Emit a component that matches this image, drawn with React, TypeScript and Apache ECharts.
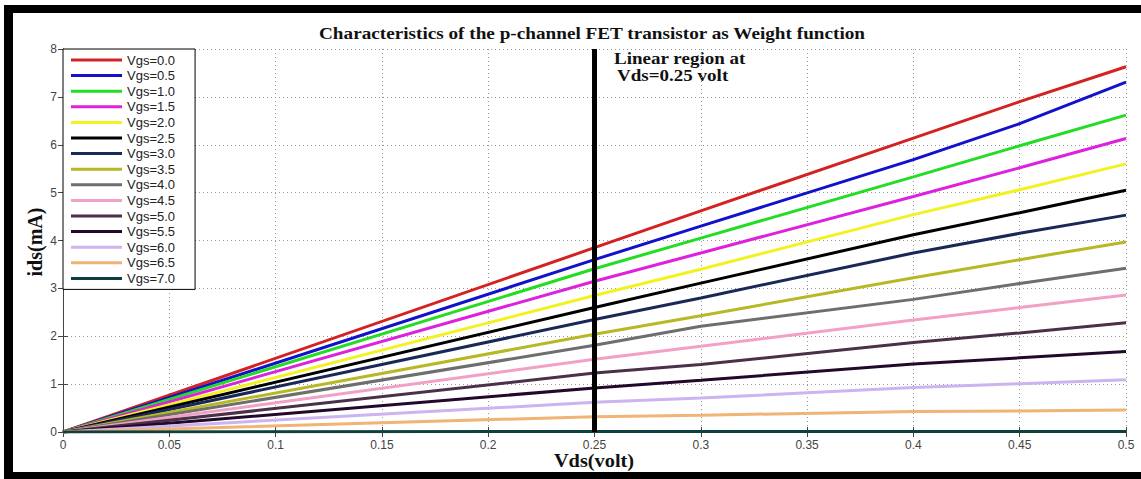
import React, { useEffect, useRef } from "react";
import * as echarts from "echarts";

const vds = [0, 0.25, 0.3, 0.4, 0.45, 0.5];
const seriesNames = [
  "Vgs=0.0", "Vgs=0.5", "Vgs=1.0", "Vgs=1.5", "Vgs=2.0", "Vgs=2.5", "Vgs=3.0", "Vgs=3.5",
  "Vgs=4.0", "Vgs=4.5", "Vgs=5.0", "Vgs=5.5", "Vgs=6.0", "Vgs=6.5", "Vgs=7.0",
];
const ids00 = [0, 3.85, 4.62, 6.14, 6.9, 7.63];
const ids05 = [0, 3.6, 4.3, 5.69, 6.44, 7.31];
const ids10 = [0, 3.41, 4.05, 5.33, 5.98, 6.62];
const ids15 = [0, 3.15, 3.74, 4.92, 5.52, 6.13];
const ids20 = [0, 2.85, 3.4, 4.54, 5.06, 5.6];
const ids25 = [0, 2.6, 3.11, 4.12, 4.58, 5.05];
const ids30 = [0, 2.35, 2.8, 3.74, 4.15, 4.53];
const ids35 = [0, 2.04, 2.43, 3.22, 3.6, 3.97];
const ids40 = [0, 1.81, 2.21, 2.77, 3.1, 3.42];
const ids45 = [0, 1.52, 1.79, 2.34, 2.6, 2.86];
const ids50 = [0, 1.23, 1.41, 1.87, 2.07, 2.28];
const ids55 = [0, 0.92, 1.08, 1.42, 1.55, 1.68];
const ids60 = [0, 0.62, 0.71, 0.93, 1.01, 1.09];
const ids65 = [0, 0.32, 0.35, 0.43, 0.44, 0.46];
const ids70 = [0, 0.01, 0.01, 0.01, 0.01, 0.01];
const allIds = [ids00, ids05, ids10, ids15, ids20, ids25, ids30, ids35, ids40, ids45, ids50, ids55, ids60, ids65, ids70];
const colors = [
  "#d42222", "#1212cc", "#22dd22", "#dd22dd", "#f2f222", "#000000", "#1a2858", "#b8b825",
  "#6e6e6e", "#f2a0c4", "#4a3048", "#22082a", "#cbb4f0", "#f0b474", "#0e4040",
];
const markerVds = 0.25;
const xTickInterval = 0.05;
const yTickInterval = 1;

export default function App() {
  const ref = useRef<HTMLDivElement>(null);
  useEffect(() => {
    if (!ref.current) return;
    const chart = echarts.init(ref.current, null, { renderer: "svg" });
    const lines = seriesNames.map((name, i) => ({
      name,
      type: "line",
      data: vds.map((x, j) => [x, allIds[i][j]]),
      showSymbol: false,
      symbol: "none",
      lineStyle: { color: colors[i], width: 3 },
      itemStyle: { color: colors[i] },
      z: 3,
    }));
    const serifBold = {
      fontFamily: "Liberation Serif",
      fontWeight: "bold",
      fill: "#111",
      textVerticalAlign: "middle",
    };
    chart.setOption({
      animation: false,
      backgroundColor: "#ffffff",
      grid: { left: 63, right: 15, top: 49, bottom: 47, containLabel: false },
      legend: {
        data: seriesNames,
        orient: "vertical",
        left: 63,
        top: 49,
        icon: "rect",
        itemWidth: 51,
        itemHeight: 3,
        itemGap: 1.6,
        padding: [4, 20, 4, 8],
        backgroundColor: "#ffffff",
        borderColor: "#000000",
        borderWidth: 1,
        borderRadius: 0,
        textStyle: { fontFamily: "Liberation Sans", fontSize: 13, color: "#222", lineHeight: 14 },
        z: 10,
      },
      xAxis: [
        {
          type: "value",
          min: 0,
          max: 0.5,
          interval: xTickInterval,
          position: "bottom",
          axisLine: { show: true, lineStyle: { color: "#444", width: 1 } },
          axisTick: { show: true, inside: true, length: 5, lineStyle: { color: "#444" } },
          axisLabel: {
            fontFamily: "Liberation Sans",
            fontSize: 12,
            color: "#444",
            margin: 7,
            formatter: (v: number) => String(parseFloat(v.toFixed(2))),
          },
          splitLine: { show: true, lineStyle: { color: "#999", type: [1, 3], width: 1 } },
        },
        {
          type: "value",
          min: 0,
          max: 0.5,
          interval: xTickInterval,
          position: "top",
          axisLine: { show: true, lineStyle: { color: "#444", width: 1 } },
          axisTick: { show: true, inside: true, length: 5, lineStyle: { color: "#444" } },
          axisLabel: { show: false },
          splitLine: { show: false },
        },
      ],
      yAxis: [
        {
          type: "value",
          min: 0,
          max: 8,
          interval: yTickInterval,
          position: "left",
          axisLine: { show: true, lineStyle: { color: "#444", width: 1 } },
          axisTick: { show: true, inside: true, length: 5, lineStyle: { color: "#444" } },
          axisLabel: { fontFamily: "Liberation Sans", fontSize: 12, color: "#444", margin: 6 },
          splitLine: { show: true, lineStyle: { color: "#999", type: [1, 3], width: 1 } },
        },
        {
          type: "value",
          min: 0,
          max: 8,
          interval: yTickInterval,
          position: "right",
          axisLine: { show: true, lineStyle: { color: "#444", width: 1 } },
          axisTick: { show: true, inside: true, length: 5, lineStyle: { color: "#444" } },
          axisLabel: { show: false },
          splitLine: { show: false },
        },
      ],
      series: [
        ...lines,
        {
          name: "marker",
          type: "line",
          data: [
            [markerVds, 0],
            [markerVds, 8],
          ],
          showSymbol: false,
          symbol: "none",
          lineStyle: { color: "#000", width: 5 },
          z: 5,
        },
      ],
      graphic: [
        { type: "rect", shape: { x: 4, y: 5, width: 1137, height: 8 }, style: { fill: "#000" } },
        { type: "rect", shape: { x: 4, y: 5, width: 9, height: 474 }, style: { fill: "#000" } },
        { type: "rect", shape: { x: 4, y: 472, width: 1137, height: 7 }, style: { fill: "#000" } },
        {
          type: "text",
          x: 592,
          y: 33,
          scaleX: 1.13,
          style: {
            ...serifBold,
            text: "Characteristics of the p-channel FET transistor as Weight function",
            fontSize: 17,
            textAlign: "center",
          },
        },
        {
          type: "text",
          x: 614,
          y: 58,
          scaleX: 1.12,
          style: { ...serifBold, text: "Linear region at", fontSize: 17, textAlign: "left" },
        },
        {
          type: "text",
          x: 617,
          y: 75,
          scaleX: 1.12,
          style: { ...serifBold, text: "Vds=0.25 volt", fontSize: 17, textAlign: "left" },
        },
        {
          type: "text",
          x: 594,
          y: 461,
          scaleX: 1.13,
          style: { ...serifBold, text: "Vds(volt)", fontSize: 18, textAlign: "center" },
        },
        {
          type: "text",
          x: 35,
          y: 242,
          rotation: Math.PI / 2,
          style: { ...serifBold, text: "ids(mA)", fontSize: 20, textAlign: "center" },
        },
      ],
    });
    return () => chart.dispose();
  }, []);
  return (
    <div
      ref={ref}
      style={{ position: "absolute", left: 0, top: 0, width: 1141, height: 479 }}
    />
  );
}
